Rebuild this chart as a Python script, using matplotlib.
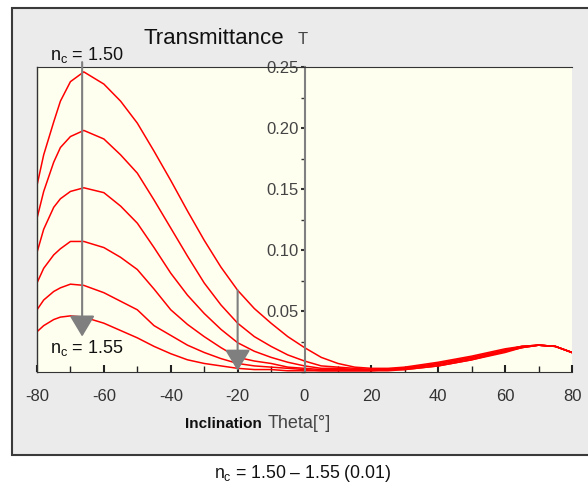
import matplotlib.pyplot as plt
from matplotlib.patches import Rectangle
from matplotlib.ticker import MultipleLocator, FormatStrFormatter

plt.rcParams['font.family'] = ['Liberation Sans', 'DejaVu Sans']
plt.rcParams['mathtext.fontset'] = 'custom'
plt.rcParams['mathtext.rm'] = 'Liberation Sans'
plt.rcParams['mathtext.it'] = 'Liberation Sans'
plt.rcParams['axes.unicode_minus'] = False

# inclination angles (deg)
theta = [-80, -78, -75, -73, -70, -66, -60, -55, -50, -45, -40, -35, -30, -25, -20, -15, -10,
         -5, 0, 5, 10, 15, 20, 25, 30, 40, 50, 60, 65, 70, 75, 80]

# transmittance for n_c = 1.50 ... 1.55
t150 = [0.153, 0.178, 0.205, 0.222, 0.238, 0.246, 0.236, 0.222, 0.204, 0.181, 0.157, 0.132,
        0.108, 0.086, 0.067, 0.052, 0.040, 0.029, 0.020, 0.012, 0.007, 0.004, 0.003, 0.003,
        0.004, 0.008, 0.013, 0.019, 0.021, 0.022, 0.021, 0.016]
t151 = [0.126, 0.148, 0.172, 0.184, 0.193, 0.198, 0.191, 0.178, 0.163, 0.141, 0.118, 0.095,
        0.073, 0.055, 0.040, 0.029, 0.021, 0.014, 0.009, 0.005, 0.004, 0.003, 0.002, 0.002,
        0.003, 0.007, 0.012, 0.018, 0.021, 0.022, 0.021, 0.016]
t152 = [0.098, 0.117, 0.135, 0.142, 0.148, 0.151, 0.147, 0.136, 0.122, 0.102, 0.081, 0.063,
        0.048, 0.035, 0.024, 0.017, 0.012, 0.008, 0.005, 0.003, 0.003, 0.002, 0.002, 0.002,
        0.003, 0.007, 0.012, 0.018, 0.021, 0.022, 0.021, 0.016]
t153 = [0.073, 0.085, 0.096, 0.101, 0.107, 0.107, 0.102, 0.094, 0.084, 0.068, 0.051, 0.039,
        0.029, 0.020, 0.012, 0.009, 0.007, 0.004, 0.003, 0.002, 0.002, 0.002, 0.002, 0.002,
        0.003, 0.006, 0.011, 0.017, 0.020, 0.022, 0.021, 0.016]
t154 = [0.051, 0.059, 0.066, 0.069, 0.072, 0.071, 0.065, 0.058, 0.051, 0.038, 0.030, 0.022,
        0.016, 0.011, 0.007, 0.005, 0.004, 0.003, 0.002, 0.001, 0.001, 0.001, 0.001, 0.002,
        0.002, 0.005, 0.010, 0.017, 0.020, 0.022, 0.021, 0.016]
t155 = [0.033, 0.038, 0.043, 0.045, 0.046, 0.045, 0.040, 0.034, 0.028, 0.021, 0.015, 0.010,
        0.007, 0.005, 0.003, 0.002, 0.002, 0.001, 0.001, 0.001, 0.001, 0.001, 0.001, 0.001,
        0.002, 0.005, 0.010, 0.016, 0.020, 0.022, 0.021, 0.016]
curves = [t150, t151, t152, t153, t154, t155]

W, H = 588, 488
fig = plt.figure(figsize=(W / 100, H / 100), dpi=100)

def fx(px):
    return px / W

def fy(py):
    return 1 - py / H

# grey panel
fig.patches.append(Rectangle((fx(12), fy(455)), 1.2, fy(8) - fy(455), transform=fig.transFigure,
                             facecolor='#ebebeb', edgecolor='#3a3a3a', lw=1.5, zorder=-10))

ax = fig.add_axes([fx(37), fy(372), fx(572) - fx(37), fy(67) - fy(372)])
ax.set_zorder(1)
ax.set_facecolor('#fffff0')

for t in curves:
    ax.plot(theta, t, color='red', lw=1.1)

ax.set_xlim(-80, 80)
ax.set_ylim(0, 0.25)

ax.spines['right'].set_visible(False)
ax.spines['top'].set_color('#333333')
ax.spines['bottom'].set_color('#333333')
ax.spines['left'].set_position(('data', 0))
ax.spines['left'].set_color('#808080')
ax.spines['left'].set_linewidth(1.5)

# left frame line of the plot
ax.axvline(-80, color='#333333', lw=1.0, clip_on=False)

ax.xaxis.set_major_locator(MultipleLocator(20))
ax.xaxis.set_minor_locator(MultipleLocator(10))
ax.yaxis.set_major_locator(MultipleLocator(0.05))
ax.yaxis.set_minor_locator(MultipleLocator(0.025))
ax.yaxis.set_major_formatter(FormatStrFormatter('%.2f'))
ax.tick_params(axis='x', which='major', direction='in', length=5, width=1.5, color='#222222',
               labelsize=12, labelcolor='#333333', pad=12)
ax.tick_params(axis='x', which='minor', direction='in', length=4, width=1.0, color='#222222')
ax.tick_params(axis='y', which='major', direction='out', length=3, width=1.5, color='#333333',
               labelsize=12, labelcolor='#444444', pad=1)
ax.tick_params(axis='y', which='minor', direction='out', length=3, width=1.0, color='#333333')
ax.set_yticks([0.05, 0.10, 0.15, 0.20, 0.25])

# arrows
arrow_kw = dict(arrowstyle='-|>,head_length=1.0,head_width=0.6', color='#7f7f7f', lw=1.5,
                shrinkA=0, shrinkB=0, mutation_scale=13)
ax.annotate('', xy=(-66.5, 0.029), xytext=(-66.5, 0.254), arrowprops=arrow_kw,
            annotation_clip=False)
ax.annotate('', xy=(-20, 0.001), xytext=(-20, 0.067), arrowprops=arrow_kw)

# texts
fig.text(fx(143), fy(38), 'Transmittance', fontsize=16, va='center', ha='left', color='#111111')
fig.text(fx(298), fy(40), 'T', fontsize=12, va='center', ha='left', color='#444444')
fig.text(fx(50), fy(55), r'n$_\mathrm{c}$ = 1.50', fontsize=13, va='center', ha='left',
         color='#111111')
fig.text(fx(50), fy(348), r'n$_\mathrm{c}$ = 1.55', fontsize=13, va='center', ha='left',
         color='#111111')
fig.text(fx(185), fy(424), 'Inclination', fontsize=11, fontweight='bold', va='center',
         ha='left', color='#111111')
fig.text(fx(268), fy(424), 'Theta[°]', fontsize=13, va='center', ha='left', color='#444444')
fig.text(fx(302), fy(473), r'n$_\mathrm{c}$ = 1.50 – 1.55 (0.01)', fontsize=12.7,
         va='center', ha='center', color='#111111')

fig.savefig('out.png', dpi=100)
